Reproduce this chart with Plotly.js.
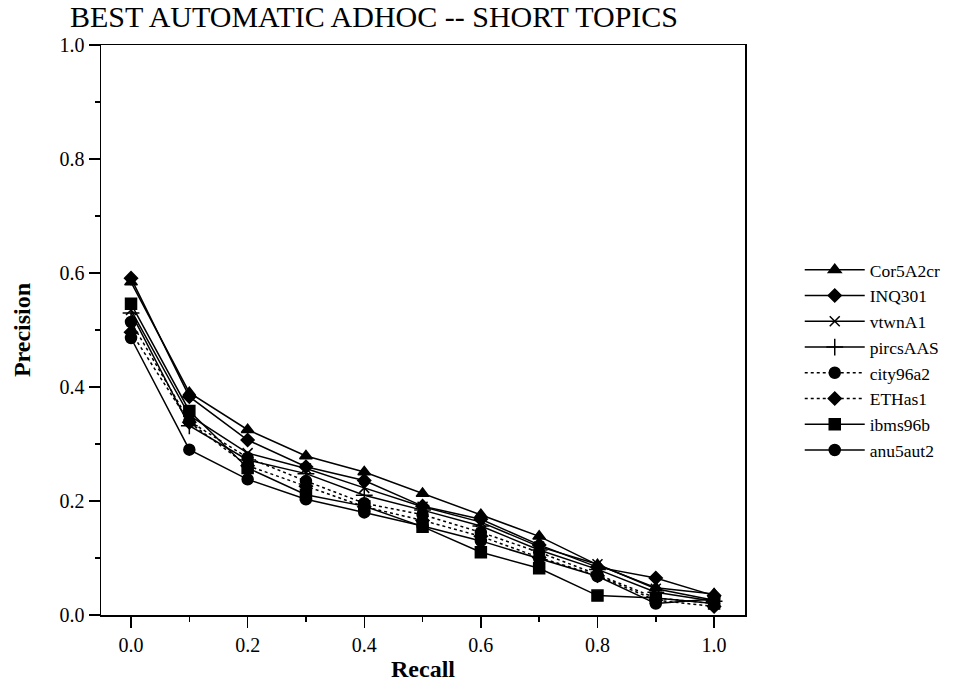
<!DOCTYPE html>
<html>
<head>
<meta charset="utf-8">
<script src="https://cdn.plot.ly/plotly-3.0.1.min.js"></script>
<style>
  html, body { margin: 0; padding: 0; background: #ffffff; }
  #chart { width: 964px; height: 683px; }
</style>
</head>
<body>
<div id="chart"></div>
<script>
// Recall levels shared by every run
const recall = [0.0, 0.1, 0.2, 0.3, 0.4, 0.5, 0.6, 0.7, 0.8, 0.9, 1.0];

// Interpolated precision per run
const cor5A2cr = [0.584, 0.390, 0.325, 0.279, 0.251, 0.213, 0.176, 0.138, 0.088, 0.048, 0.037];
const inq301   = [0.591, 0.383, 0.307, 0.260, 0.236, 0.191, 0.168, 0.123, 0.084, 0.065, 0.034];
const vtwnA1   = [0.535, 0.350, 0.284, 0.257, 0.223, 0.190, 0.163, 0.120, 0.089, 0.046, 0.026];
const pircsAAS = [0.530, 0.332, 0.272, 0.248, 0.210, 0.184, 0.156, 0.114, 0.080, 0.040, 0.024];
const city96a2 = [0.514, 0.340, 0.276, 0.235, 0.196, 0.176, 0.145, 0.110, 0.071, 0.030, 0.020];
const ethas1   = [0.496, 0.338, 0.262, 0.226, 0.190, 0.166, 0.138, 0.101, 0.069, 0.026, 0.015];
const ibms96b  = [0.546, 0.358, 0.258, 0.211, 0.191, 0.155, 0.110, 0.082, 0.034, 0.030, 0.020];
const anu5aut2 = [0.486, 0.290, 0.238, 0.203, 0.180, 0.156, 0.130, 0.099, 0.068, 0.020, 0.028];

const runNames = ['Cor5A2cr', 'INQ301', 'vtwnA1', 'pircsAAS', 'city96a2', 'ETHas1', 'ibms96b', 'anu5aut2'];
const runValues = [cor5A2cr, inq301, vtwnA1, pircsAAS, city96a2, ethas1, ibms96b, anu5aut2];
const runSymbols = ['triangle-up', 'diamond', 'x-thin-open', 'cross-thin-open', 'circle', 'diamond', 'square', 'circle'];
const runDashes = ['solid', 'solid', 'solid', 'solid', 'dot', 'dot', 'solid', 'solid'];
const runSizes = [11, 10, 10, 12, 11, 10, 11, 11];

const serif = 'Liberation Serif';

const traces = runNames.map((name, i) => ({
  type: 'scatter',
  mode: 'lines+markers',
  name: name,
  x: recall,
  y: runValues[i],
  line: { color: '#000000', width: 1.5, dash: runDashes[i] },
  marker: {
    symbol: runSymbols[i],
    size: runSizes[i],
    color: '#000000',
    line: { color: '#000000', width: 1.5 }
  }
}));

const layout = {
  width: 964,
  height: 683,
  font: { family: serif, color: '#000000' },
  paper_bgcolor: '#ffffff',
  plot_bgcolor: '#ffffff',
  margin: { l: 101, r: 219, t: 45, b: 68, autoexpand: false },
  showlegend: true,
  title: {
    text: 'BEST AUTOMATIC ADHOC -- SHORT TOPICS',
    font: { family: serif, size: 30, color: '#000000' },
    xref: 'container', x: 70 / 964, xanchor: 'left',
    yref: 'container', y: 1 - 16 / 683, yanchor: 'middle'
  },
  xaxis: {
    range: [-0.0515, 1.053],
    tickmode: 'linear', tick0: 0, dtick: 0.2,
    tickformat: '.1f',
    ticks: 'outside', ticklen: 11, tickwidth: 1.5, tickcolor: '#000000',
    minor: { dtick: 0.1, tick0: 0, ticks: 'outside', ticklen: 5, tickwidth: 1.5, tickcolor: '#000000', showgrid: false },
    showgrid: false, zeroline: false,
    showline: true, mirror: true, linewidth: 1.5, linecolor: '#000000',
    tickfont: { family: serif, size: 20, color: '#000000' },
    title: { text: '<b>Recall</b>', font: { family: serif, size: 24, color: '#000000' }, standoff: 5 }
  },
  yaxis: {
    range: [0, 1],
    tickmode: 'linear', tick0: 0, dtick: 0.2,
    tickformat: '.1f',
    ticks: 'outside', ticklen: 11, tickwidth: 1.5, tickcolor: '#000000',
    minor: { dtick: 0.1, tick0: 0, ticks: 'outside', ticklen: 5, tickwidth: 1.5, tickcolor: '#000000', showgrid: false },
    showgrid: false, zeroline: false,
    showline: true, mirror: true, linewidth: 1.5, linecolor: '#000000',
    tickfont: { family: serif, size: 20, color: '#000000' },
    title: { text: '<b>Precision</b>', font: { family: serif, size: 24, color: '#000000' }, standoff: 22 }
  },
  legend: {
    x: 1.085, xanchor: 'left',
    y: 0.637, yanchor: 'top',
    font: { family: serif, size: 17.5, color: '#000000' },
    bgcolor: 'rgba(0,0,0,0)',
    borderwidth: 0,
    itemwidth: 60
  }
};

Plotly.newPlot('chart', traces, layout, { displayModeBar: false, staticPlot: true });
</script>
</body>
</html>
